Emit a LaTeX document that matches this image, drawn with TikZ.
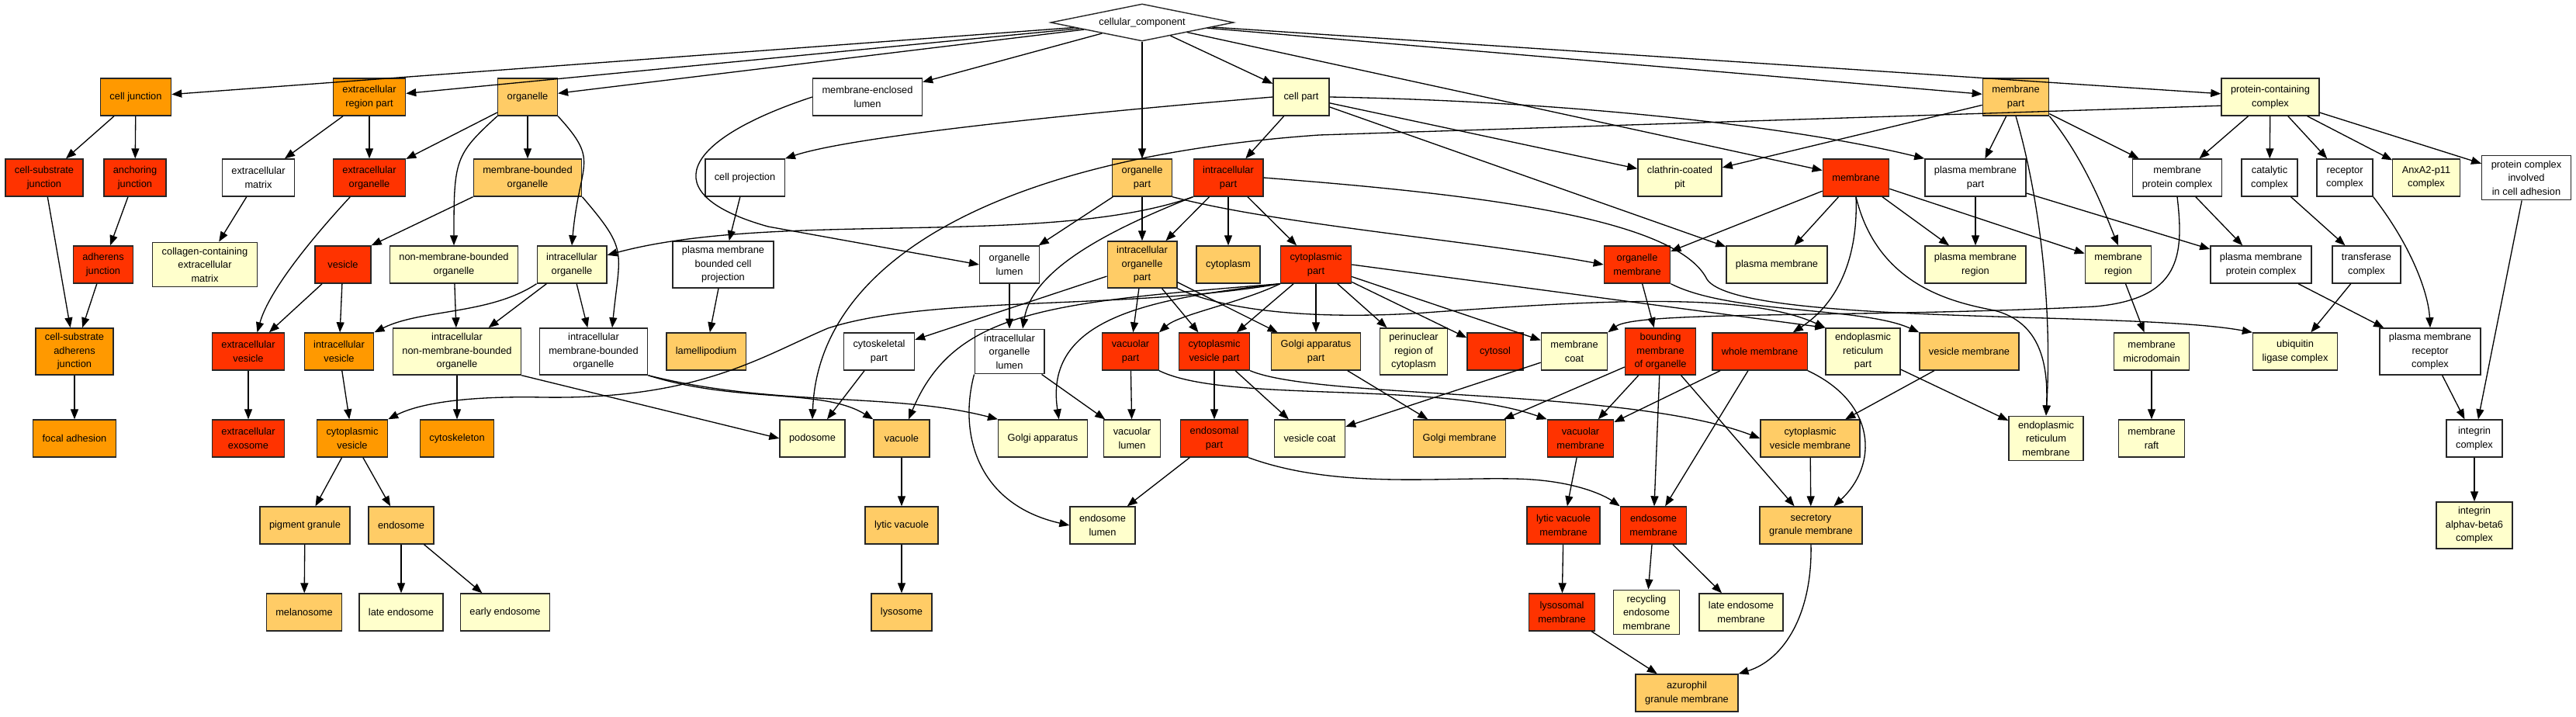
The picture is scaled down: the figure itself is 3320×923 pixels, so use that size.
\documentclass[tikz,border=0pt]{standalone}
\usepackage{fontspec}
\setmainfont{Liberation Sans}
\usetikzlibrary{arrows.meta,shapes.geometric}

\definecolor{goRed}{HTML}{FF3300}
\definecolor{goOrange}{HTML}{FF9900}
\definecolor{goLight}{HTML}{FFCC66}
\definecolor{goPale}{HTML}{FFFFCC}

\begin{document}
\begin{tikzpicture}[
		x=0.02cm,y=-0.02cm,
		>={Triangle[length=0.26cm,width=0.2cm]},
		every node/.style={font=\fontsize{7.3}{10}\selectfont},
		term/.style={draw=black!85,line width=0.8pt,rectangle,align=center,fill=white,
			inner xsep=0.24cm,inner ysep=0.13cm,minimum width=1.44cm,minimum height=0.96cm},
		sigA/.style={term,fill=goRed},
		sigB/.style={term,fill=goOrange},
		sigC/.style={term,fill=goLight},
		sigD/.style={term,fill=goPale},
		rootterm/.style={draw=black!85,line width=0.8pt,diamond,aspect=5,inner sep=0pt,
			minimum width=4.72cm,minimum height=0.96cm},
		isa/.style={->,line width=0.75pt}
		]
		
		\useasboundingbox (0,0) rectangle (3320,923);
		
		% =========================
		% root
		% =========================
		\node[rootterm] (root) at (1472,29) {cellular\_component};
		
		% =========================
		% level 1
		% =========================
		\node[sigB] (cj) at (175,125) {cell junction};
		\node[sigB] (erp) at (476,125) {extracellular\\region part};
		\node[sigC] (org) at (680,125) {organelle};
		\node[term] (mel) at (1118,125) {membrane-enclosed\\lumen};
		\node[sigD] (cp) at (1677,125) {cell part};
		\node[sigC] (mp) at (2598,125) {membrane\\part};
		\node[sigD] (pcc) at (2926,125) {protein-containing\\complex};
		
		% =========================
		% level 2
		% =========================
		\node[sigA] (csj) at (57,229) {cell-substrate\\junction};
		\node[sigA] (aj) at (174,229) {anchoring\\junction};
		\node[term] (ecm) at (333,229) {extracellular\\matrix};
		\node[sigA] (eco) at (476,229) {extracellular\\organelle};
		\node[sigC] (mbo) at (680,229) {membrane-bounded\\organelle};
		\node[term] (cpr) at (960,229) {cell projection};
		\node[sigC] (op) at (1472,229) {organelle\\part};
		\node[sigA] (icp) at (1583,229) {intracellular\\part};
		\node[sigD] (ccp) at (2165,229) {clathrin-coated\\pit};
		\node[sigA] (mem) at (2392,229) {membrane};
		\node[term] (pmp) at (2546,229) {plasma membrane\\part};
		\node[term] (mpc) at (2806,229) {membrane\\protein complex};
		\node[term] (catc) at (2925,229) {catalytic\\complex};
		\node[term] (recc) at (3022,229) {receptor\\complex};
		\node[sigD] (anx) at (3127,229) {AnxA2-p11\\complex};
		\node[term] (pcica) at (3256,229) {protein complex\\involved\\in cell adhesion};
		
		% =========================
		% level 3
		% =========================
		\node[sigA] (adj) at (133,341) {adherens\\junction};
		\node[sigD] (ccecm) at (264,341) {collagen-containing\\extracellular\\matrix};
		\node[sigA] (ves) at (442,341) {vesicle};
		\node[sigD] (nmbo) at (585,341) {non-membrane-bounded\\organelle};
		\node[sigD] (io) at (737,341) {intracellular\\organelle};
		\node[term] (pmbcp) at (932,341) {plasma membrane\\bounded cell\\projection};
		\node[term] (ol) at (1301,341) {organelle\\lumen};
		\node[sigC] (iop) at (1472,341) {intracellular\\organelle\\part};
		\node[sigC] (cyt) at (1583,341) {cytoplasm};
		\node[sigA] (cytp) at (1696,341) {cytoplasmic\\part};
		\node[sigA] (om) at (2110,341) {organelle\\membrane};
		\node[sigD] (pm) at (2290,341) {plasma membrane};
		\node[sigD] (pmr) at (2546,341) {plasma membrane\\region};
		\node[sigD] (mr) at (2730,341) {membrane\\region};
		\node[term] (pmpc) at (2914,341) {plasma membrane\\protein complex};
		\node[term] (trc) at (3050,341) {transferase\\complex};
		
		% =========================
		% level 4
		% =========================
		\node[sigB] (csaj) at (96,453) {cell-substrate\\adherens\\junction};
		\node[sigA] (ev) at (320,453) {extracellular\\vesicle};
		\node[sigB] (iv) at (437,453) {intracellular\\vesicle};
		\node[sigD] (inmbo) at (589,453) {intracellular\\non-membrane-bounded\\organelle};
		\node[term] (imbo) at (765,453) {intracellular\\membrane-bounded\\organelle};
		\node[sigC] (lam) at (910,453) {lamellipodium};
		\node[term] (cskp) at (1133,453) {cytoskeletal\\part};
		\node[term] (iol) at (1301,453) {intracellular\\organelle\\lumen};
		\node[sigA] (vp) at (1457,453) {vacuolar\\part};
		\node[sigA] (cvp) at (1565,453) {cytoplasmic\\vesicle part};
		\node[sigC] (gap) at (1696,453) {Golgi apparatus\\part};
		\node[sigD] (pnr) at (1822,453) {perinuclear\\region of\\cytoplasm};
		\node[sigA] (cyto) at (1927,453) {cytosol};
		\node[sigD] (mc) at (2029,453) {membrane\\coat};
		\node[sigA] (bmo) at (2140,453) {bounding\\membrane\\of organelle};
		\node[sigA] (wm) at (2268,453) {whole membrane};
		\node[sigD] (erpart) at (2401,453) {endoplasmic\\reticulum\\part};
		\node[sigC] (vm) at (2538,453) {vesicle membrane};
		\node[sigD] (mmd) at (2773,453) {membrane\\microdomain};
		\node[sigD] (ulc) at (2958,453) {ubiquitin\\ligase complex};
		\node[term] (pmrc) at (3132,453) {plasma membrane\\receptor\\complex};
		
		% =========================
		% level 5
		% =========================
		\node[sigB] (fa) at (96,565) {focal adhesion};
		\node[sigA] (exo) at (320,565) {extracellular\\exosome};
		\node[sigB] (cv) at (454,565) {cytoplasmic\\vesicle};
		\node[sigB] (csk) at (589,565) {cytoskeleton};
		\node[sigD] (pod) at (1047,565) {podosome};
		\node[sigC] (vac) at (1162,565) {vacuole};
		\node[sigD] (ga) at (1344,565) {Golgi apparatus};
		\node[sigD] (vl) at (1459,565) {vacuolar\\lumen};
		\node[sigA] (endp) at (1565,565) {endosomal\\part};
		\node[sigD] (vc) at (1688,565) {vesicle coat};
		\node[sigC] (gm) at (1881,565) {Golgi membrane};
		\node[sigA] (vacm) at (2037,565) {vacuolar\\membrane};
		\node[sigC] (cvm) at (2333,565) {cytoplasmic\\vesicle membrane};
		\node[sigD] (erm) at (2637,565) {endoplasmic\\reticulum\\membrane};
		\node[sigD] (raft) at (2773,565) {membrane\\raft};
		\node[term] (ic) at (3189,565) {integrin\\complex};
		
		% =========================
		% level 6 to 8
		% =========================
		\node[sigC] (pg) at (393,677) {pigment granule};
		\node[sigC] (endo) at (517,677) {endosome};
		\node[sigC] (lv) at (1162,677) {lytic vacuole};
		\node[sigD] (el) at (1421,677) {endosome\\lumen};
		\node[sigA] (lvm) at (2015,677) {lytic vacuole\\membrane};
		\node[sigA] (endm) at (2131,677) {endosome\\membrane};
		\node[sigC] (sgm) at (2334,677) {secretory\\granule membrane};
		\node[sigD] (iab6) at (3189,677) {integrin\\alphav-beta6\\complex};
		
		\node[sigC] (melan) at (392,789) {melanosome};
		\node[sigD] (le) at (517,789) {late endosome};
		\node[sigD] (ee) at (651,789) {early endosome};
		\node[sigC] (lys) at (1162,789) {lysosome};
		\node[sigA] (lysm) at (2013,789) {lysosomal\\membrane};
		\node[sigD] (rem) at (2122,789) {recycling\\endosome\\membrane};
		\node[sigD] (lem) at (2244,789) {late endosome\\membrane};
		
		\node[sigC] (agm) at (2174,893) {azurophil\\granule membrane};
		
		% =========================
		% edges from the root
		% =========================
		\draw[isa] (root) -- (cj);
		\draw[isa] (root) -- (erp);
		\draw[isa] (root) -- (org);
		\draw[isa] (root) -- (mel);
		\draw[isa] (root) -- (op);
		\draw[isa] (root) -- (cp);
		\draw[isa] (root) -- (mem);
		\draw[isa] (root) -- (mp);
		\draw[isa] (root) -- (pcc);
		
		% =========================
		% left: junctions and organelles
		% =========================
		\draw[isa] (cj) -- (csj);
		\draw[isa] (cj) -- (aj);
		\draw[isa] (erp) -- (ecm);
		\draw[isa] (erp) -- (eco);
		\draw[isa] (org) -- (eco);
		\draw[isa] (org) -- (mbo);
		\draw[isa] (org.south west) .. controls +(-55,50) and +(0,-110) .. (nmbo.north);
		\draw[isa] (org.south east) .. controls +(55,60) and +(10,-110) .. (io.north);
		\draw[isa] (csj) -- (csaj);
		\draw[isa] (aj) -- (adj);
		\draw[isa] (adj) -- (csaj);
		\draw[isa] (ecm) -- (ccecm);
		\draw[isa] (eco.-135) .. controls (390,320) and (345,380) .. (ev.65);
		\draw[isa] (mbo.south west) -- (ves.north east);
		\draw[isa] (mbo.south east) .. controls +(60,70) and +(10,-100) .. (imbo.52);
		\draw[isa] (ves) -- (ev);
		\draw[isa] (ves) -- (iv);
		\draw[isa] (nmbo) -- (inmbo);
		\draw[isa] (io.south west) .. controls +(-60,40) and +(60,-30) .. (iv.north east);
		\draw[isa] (io) -- (inmbo);
		\draw[isa] (io) -- (imbo);
		\draw[isa] (csaj) -- (fa);
		\draw[isa] (ev) -- (exo);
		\draw[isa] (iv) -- (cv);
		\draw[isa] (inmbo) -- (csk);
		\draw[isa] (inmbo.south east) -- (pod.west);
		\draw[isa] (imbo.south east) .. controls (950,520) and (1060,500) .. (vac.north west);
		\draw[isa] (imbo.south east) .. controls (1000,525) and (1150,505) .. (ga.north west);
		\draw[isa] (cv) -- (pg);
		\draw[isa] (cv) -- (endo);
		\draw[isa] (pg) -- (melan);
		\draw[isa] (endo) -- (le);
		\draw[isa] (endo) -- (ee);
		
		% =========================
		% middle: cell and organelle parts
		% =========================
		\draw[isa] (mel.west) .. controls (880,180) and (840,250) .. (990,292) -- (ol.west);
		\draw[isa] (cp.west) .. controls (1400,145) and (1100,175) .. (cpr.north east);
		\draw[isa] (cpr) -- (pmbcp);
		\draw[isa] (pmbcp) -- (lam);
		\draw[isa] (op) -- (ol);
		\draw[isa] (op) -- (iop);
		\draw[isa] (op.south east) .. controls (1650,290) and (1900,310) .. (om.west);
		\draw[isa] (cp) -- (icp);
		\draw[isa] (icp.south west) .. controls (1350,320) and (1000,270) .. (io.15);
		\draw[isa] (icp.south west) .. controls (1420,300) and (1330,350) .. (iol.60);
		\draw[isa] (icp) -- (iop);
		\draw[isa] (icp) -- (cyt);
		\draw[isa] (icp) -- (cytp);
		\draw[isa] (icp.east) .. controls (1900,250) and (2160,280) .. (2200,360)
			.. controls (2240,420) and (2750,400) .. (ulc.north west);
		\draw[isa] (ol) -- (iol);
		\draw[isa] (iop) -- (cskp);
		\draw[isa] (iop) -- (vp);
		\draw[isa] (iop) -- (cvp);
		\draw[isa] (iop) -- (gap);
		\draw[isa] (iop.south east) .. controls (1600,410) and (1750,410) .. (1850,402)
			.. controls (2050,388) and (2250,375) .. (erpart.north west);
		\draw[isa] (cskp) -- (pod);
		\draw[isa] (pcc.190) -- (1700,174) .. controls (1300,202) and (1055,330) .. (pod.north);
		\draw[isa] (iol) -- (vl);
		\draw[isa] (iol.south west) .. controls (1235,560) and (1260,650) .. (el.west);
		\draw[isa] (vp) -- (vl);
		\draw[isa] (vp.south east) .. controls (1580,520) and (1850,490) .. (vacm.north west);
		\draw[isa] (cvp) -- (endp);
		\draw[isa] (cvp) -- (vc);
		\draw[isa] (cvp.south east) .. controls (1700,515) and (2100,500) .. (cvm.west);
		\draw[isa] (cytp.south west) .. controls (1450,400) and (1200,380) .. (1067,423)
			.. controls (980,460) and (900,515) .. (700,512)
			.. controls (600,510) and (540,520) .. (cv.north east);
		\draw[isa] (cytp.south west) .. controls (1350,390) and (1230,400) .. (vac.70);
		\draw[isa] (cytp.south west) .. controls (1480,385) and (1345,410) .. (ga.50);
		\draw[isa] (cytp.south west) .. controls (1600,390) and (1520,405) .. (vp.north east);
		\draw[isa] (cytp) -- (cvp);
		\draw[isa] (cytp) -- (gap);
		\draw[isa] (cytp) -- (pnr);
		\draw[isa] (cytp) -- (cyto);
		\draw[isa] (cytp) -- (mc);
		\draw[isa] (cytp.east) -- (erpart.north west);
		\draw[isa] (vac) -- (lv);
		\draw[isa] (lv) -- (lys);
		\draw[isa] (endp) -- (el);
		\draw[isa] (endp.south east) .. controls (1720,630) and (1850,615) .. (1950,617)
			.. controls (2030,618) and (2070,640) .. (endm.north west);
		\draw[isa] (gap) -- (gm);
		\draw[isa] (mc) -- (vc);
		
		% =========================
		% right: membranes and complexes
		% =========================
		\draw[isa] (cp) -- (ccp);
		\draw[isa] (cp) -- (pm);
		\draw[isa] (cp.east) .. controls (2000,130) and (2300,160) .. (pmp.north west);
		\draw[isa] (mp) -- (ccp);
		\draw[isa] (mp) -- (pmp);
		\draw[isa] (mp.south east) .. controls (2690,210) and (2715,280) .. (mr.north);
		\draw[isa] (mp) -- (mpc);
		\draw[isa] (mp.south) .. controls (2630,260) and (2645,400) .. (erm.north);
		\draw[isa] (mem) -- (om);
		\draw[isa] (mem) -- (pm);
		\draw[isa] (mem) -- (pmr);
		\draw[isa] (mem) -- (mr);
		\draw[isa] (mem.south) .. controls (2395,330) and (2370,390) .. (wm.30);
		\draw[isa] (mem.south) .. controls (2420,370) and (2520,390) .. (2570,400)
			.. controls (2630,415) and (2640,470) .. (erm.north);
		\draw[isa] (pmp) -- (pmr);
		\draw[isa] (pmp) -- (pmpc);
		\draw[isa] (om) -- (bmo);
		\draw[isa] (om.south east) .. controls (2230,405) and (2400,395) .. (vm.north west);
		\draw[isa] (bmo) -- (gm);
		\draw[isa] (bmo) -- (vacm);
		\draw[isa] (bmo) -- (endm);
		\draw[isa] (bmo) -- (sgm);
		\draw[isa] (wm) -- (vacm);
		\draw[isa] (wm) -- (endm);
		\draw[isa] (wm.south east) .. controls (2420,520) and (2420,600) .. (sgm.40);
		\draw[isa] (erpart) -- (erm);
		\draw[isa] (vm) -- (cvm);
		\draw[isa] (vacm) -- (lvm);
		\draw[isa] (lvm) -- (lysm);
		\draw[isa] (lysm) -- (agm);
		\draw[isa] (endm) -- (rem);
		\draw[isa] (endm) -- (lem);
		\draw[isa] (cvm) -- (sgm);
		\draw[isa] (sgm.south) .. controls (2336,790) and (2300,850) .. (agm.north east);
		
		\draw[isa] (pcc) -- (mpc);
		\draw[isa] (pcc) -- (catc);
		\draw[isa] (pcc) -- (recc);
		\draw[isa] (pcc) -- (anx);
		\draw[isa] (pcc) -- (pcica);
		\draw[isa] (mpc) -- (pmpc);
		\draw[isa] (mpc.south) .. controls (2815,330) and (2810,385) .. (2700,395)
			.. controls (2400,410) and (2110,400) .. (mc.north east);
		\draw[isa] (catc) -- (trc);
		\draw[isa] (recc.south east) .. controls (3110,320) and (3130,380) .. (pmrc.north);
		\draw[isa] (mr) -- (mmd);
		\draw[isa] (pmpc) -- (pmrc);
		\draw[isa] (trc) -- (ulc);
		\draw[isa] (mmd) -- (raft);
		\draw[isa] (pmrc) -- (ic);
		\draw[isa] (pcica) -- (ic);
		\draw[isa] (ic) -- (iab6);
		
	\end{tikzpicture}
\end{document}
